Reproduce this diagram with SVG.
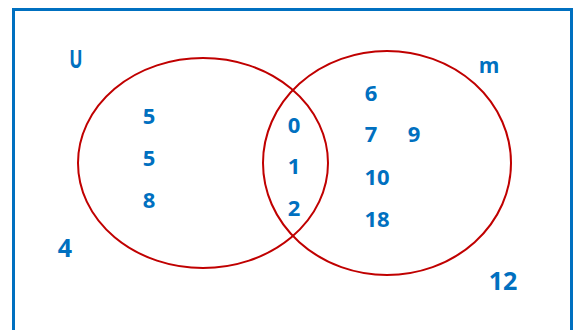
<svg xmlns="http://www.w3.org/2000/svg" width="575" height="330" viewBox="0 0 575 330">
  <style>
    .frame { fill: none; stroke: #0070C0; stroke-width: 3; }
    .set { fill: none; stroke: #C00000; stroke-width: 2; }
    .n { font-family: "Open Sans", "Liberation Sans", sans-serif; font-weight: bold; font-size: 22px; fill: #0070C0; text-anchor: middle; }
    .big { font-size: 25px; }
  </style>
  <rect width="575" height="330" fill="#ffffff"/>
  <g id="universe">
    <rect class="frame" x="13.5" y="9.5" width="558" height="340"/>
    <text class="n" x="76" y="68" style="font-size:22px" transform="translate(76 68) scale(0.8 1.1) translate(-76 -68)">U</text>
    <text class="n big" x="65" y="257">4</text>
    <text class="n big" x="503" y="290">12</text>
  </g>
  <g id="setA">
    <ellipse class="set" cx="203" cy="163" rx="125" ry="105"/>
    <text class="n" x="149" y="124">5</text>
    <text class="n" x="149" y="166">5</text>
    <text class="n" x="149" y="208">8</text>
  </g>
  <g id="setB">
    <ellipse class="set" cx="387" cy="163" rx="124" ry="112"/>
    <text class="n" x="489" y="73" style="font-size:21px">m</text>
    <text class="n" x="371" y="101">6</text>
    <text class="n" x="371" y="142">7</text>
    <text class="n" x="414" y="142">9</text>
    <text class="n" x="377" y="185">10</text>
    <text class="n" x="377" y="227">18</text>
  </g>
  <g id="intersection">
    <text class="n" x="294" y="133">0</text>
    <text class="n" x="294" y="174">1</text>
    <text class="n" x="294" y="216">2</text>
  </g>
  <g id="connectors"></g>
</svg>
